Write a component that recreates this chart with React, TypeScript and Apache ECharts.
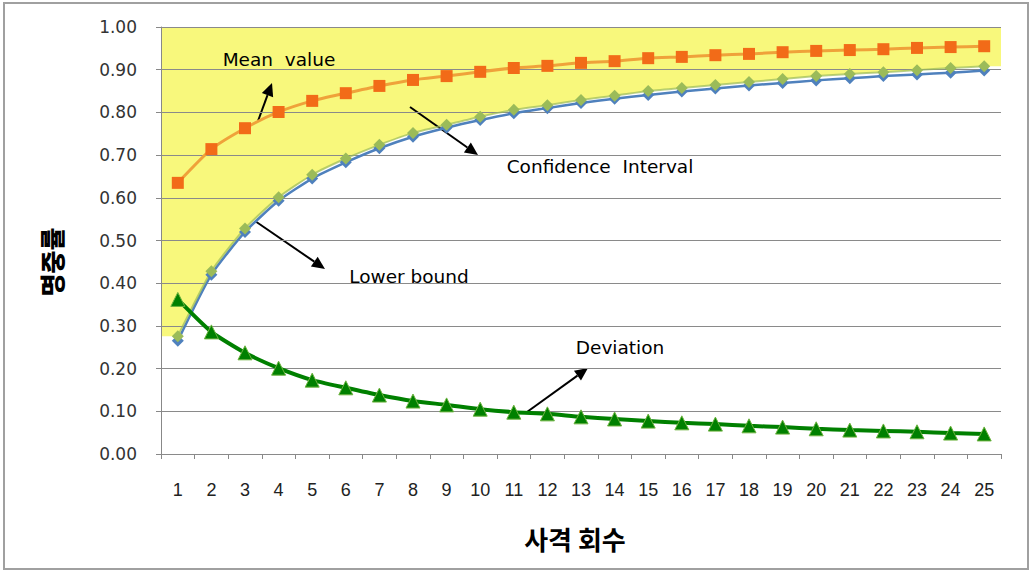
import React, { useEffect, useRef } from "react";
import * as echarts from "echarts";

const categories = ["1","2","3","4","5","6","7","8","9","10","11","12","13","14","15","16","17","18","19","20","21","22","23","24","25"];
const meanValue = [0.635,0.714,0.763,0.801,0.827,0.845,0.862,0.876,0.885,0.895,0.904,0.909,0.916,0.920,0.927,0.930,0.934,0.937,0.941,0.944,0.946,0.948,0.951,0.953,0.955];
const confidenceBound = [0.276,0.428,0.528,0.601,0.654,0.692,0.724,0.752,0.771,0.790,0.806,0.817,0.829,0.839,0.850,0.857,0.864,0.871,0.878,0.885,0.890,0.894,0.899,0.904,0.908];
const lowerBound = [0.265,0.420,0.520,0.593,0.645,0.683,0.716,0.743,0.764,0.782,0.798,0.810,0.822,0.832,0.841,0.849,0.856,0.863,0.869,0.875,0.880,0.885,0.889,0.893,0.898];
const deviation = [0.362,0.286,0.237,0.201,0.173,0.155,0.138,0.124,0.115,0.105,0.098,0.094,0.087,0.082,0.077,0.073,0.070,0.066,0.063,0.059,0.056,0.054,0.052,0.049,0.047];
const yTicks = { min: 0, max: 1, interval: 0.1 };

function arrow(x1: number, y1: number, x2: number, y2: number) {
  const dx = x2 - x1, dy = y2 - y1;
  const len = Math.sqrt(dx * dx + dy * dy);
  const ux = dx / len, uy = dy / len;
  const hl = 13, hw = 6;
  const bx = x2 - ux * hl, by = y2 - uy * hl;
  return [
    { type: "line", shape: { x1, y1, x2: bx, y2: by }, style: { stroke: "#000", lineWidth: 2 } },
    {
      type: "polygon",
      shape: { points: [[x2, y2], [bx - uy * hw, by + ux * hw], [bx + uy * hw, by - ux * hw]] },
      style: { fill: "#000" },
    },
  ];
}

export default function App() {
  const ref = useRef<HTMLDivElement>(null);
  useEffect(() => {
    if (!ref.current) return;
    const chart = echarts.init(ref.current, null, { renderer: "svg" });
    const areaData: number[][] = [[0.5, confidenceBound[0]]];
    confidenceBound.forEach((v, i) => areaData.push([i + 1, v]));
    areaData.push([25.5, confidenceBound[confidenceBound.length - 1]]);
    const annFont = "18.5px 'DejaVu Sans', sans-serif";
    chart.setOption({
      animation: false,
      backgroundColor: "#fff",
      grid: { left: 161, right: 31, top: 27, bottom: 119 },
      xAxis: [
        {
          type: "category",
          data: categories,
          boundaryGap: true,
          axisLine: { lineStyle: { color: "#888", width: 1 } },
          axisTick: { show: true, length: 5, lineStyle: { color: "#888" } },
          axisLabel: { margin: 27, fontSize: 18, color: "#222", fontFamily: "Liberation Sans, Arial, sans-serif" },
          splitLine: { show: false },
        },
        { type: "value", min: 0.5, max: 25.5, show: false },
      ],
      yAxis: {
        type: "value",
        min: yTicks.min,
        max: yTicks.max,
        interval: yTicks.interval,
        z: 1,
        axisLine: { show: true, lineStyle: { color: "#888" } },
        axisTick: { show: true, length: 5, lineStyle: { color: "#888" } },
        axisLabel: {
          margin: 24,
          fontSize: 17,
          color: "#333",
          fontFamily: "DejaVu Sans, sans-serif",
          formatter: (v: number) => v.toFixed(2),
        },
        splitLine: { show: true, lineStyle: { color: "#8a8a8a", width: 1 } },
      },
      series: [
        {
          type: "line",
          xAxisIndex: 1,
          data: areaData,
          symbol: "none",
          z: -1,
          lineStyle: { width: 0 },
          areaStyle: { color: "#F8F87C", opacity: 1, origin: "end" },
          silent: true,
        },
        {
          name: "Lower bound",
          type: "line",
          data: lowerBound,
          smooth: 0.2,
          symbol: "diamond",
          symbolSize: 12,
          lineStyle: { color: "#4F81BD", width: 2.5 },
          itemStyle: { color: "#4F81BD" },
        },
        {
          name: "Confidence Interval",
          type: "line",
          data: confidenceBound,
          smooth: 0.2,
          symbol: "diamond",
          symbolSize: 12,
          lineStyle: { color: "#9BBB59", width: 2, opacity: 0.7 },
          itemStyle: { color: "#9BBB59" },
        },
        {
          name: "Mean value",
          type: "line",
          data: meanValue,
          smooth: 0.2,
          symbol: "rect",
          symbolSize: 12,
          lineStyle: { color: "#EFA23A", width: 3 },
          itemStyle: { color: "#F26B18" },
        },
        {
          name: "Deviation",
          type: "line",
          data: deviation,
          smooth: 0.2,
          symbol: "triangle",
          symbolSize: 14,
          lineStyle: { color: "#008000", width: 4 },
          itemStyle: { color: "#008000", borderColor: "#6DB33F", borderWidth: 1 },
        },
      ],
      graphic: [
        {
          type: "rect",
          shape: { x: 4, y: 3, width: 1024, height: 566 },
          style: { fill: "none", stroke: "#a0a0a0", lineWidth: 2 },
          silent: true,
        },
        {
          type: "text",
          x: 51,
          y: 262,
          rotation: Math.PI / 2,
          style: { text: "명중률", font: "900 25px 'Noto Sans CJK KR'", fill: "#000", align: "center", verticalAlign: "middle" },
        },
        {
          type: "text",
          x: 575,
          y: 538,
          style: { text: "사격 회수", font: "bold 26px 'Noto Sans CJK KR'", fill: "#000", align: "center", verticalAlign: "middle" },
        },
        { type: "text", x: 279, y: 59, style: { text: "Mean  value", font: annFont, fill: "#000", align: "center", verticalAlign: "middle" } },
        { type: "text", x: 600, y: 166, style: { text: "Confidence  Interval", font: annFont, fill: "#000", align: "center", verticalAlign: "middle" } },
        { type: "text", x: 409, y: 276, style: { text: "Lower bound", font: annFont, fill: "#000", align: "center", verticalAlign: "middle" } },
        { type: "text", x: 620, y: 347, style: { text: "Deviation", font: annFont, fill: "#000", align: "center", verticalAlign: "middle" } },
        ...arrow(258, 121, 272, 83),
        ...arrow(410, 107, 478, 155),
        ...arrow(255, 221, 325, 269),
        ...arrow(527, 412, 588, 368),
      ],
    });
    return () => chart.dispose();
  }, []);
  return <div ref={ref} style={{ position: "fixed", left: 0, top: 0, width: 1032, height: 573 }} />;
}
